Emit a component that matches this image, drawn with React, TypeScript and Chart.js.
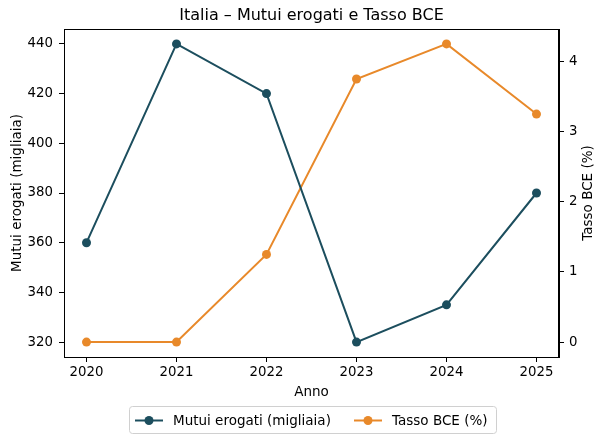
import React, { useEffect, useRef } from "react";
import { Chart, registerables } from "chart.js";

Chart.register(...registerables);

const years = [2020, 2021, 2022, 2023, 2024, 2025];
const mutui = [360, 440, 420, 320, 335, 380];
const tasso = [0, 0, 1.25, 3.75, 4.25, 3.25];
const leftTicks = [320, 340, 360, 380, 400, 420, 440];
const rightTicks = [0, 1, 2, 3, 4];
const titleText = "Italia – Mutui erogati e Tasso BCE";
const xTitle = "Anno";
const yLeftTitle = "Mutui erogati (migliaia)";
const yRightTitle = "Tasso BCE (%)";
const labelMutui = "Mutui erogati (migliaia)";
const labelTasso = "Tasso BCE (%)";

const TEAL = "#1c4e5e";
const ORANGE = "#e8892a";
const FONT = "DejaVu Sans";

const decorPlugin = {
  id: "decor",
  afterDraw(chart: any) {
    const ctx = chart.ctx;
    const a = chart.chartArea;
    ctx.save();
    ctx.strokeStyle = "#000";
    ctx.lineWidth = 1;
    ctx.strokeRect(Math.round(a.left) + 0.5, Math.round(a.top) + 0.5, Math.round(a.right - a.left) - 1, Math.round(a.bottom - a.top));
    const cx = (a.left + a.right) / 2;
    const cy = (a.top + a.bottom) / 2;
    ctx.fillStyle = "#000";
    ctx.textAlign = "center";
    ctx.textBaseline = "middle";
    ctx.font = `16px "${FONT}"`;
    ctx.fillText(titleText, cx, 16);
    ctx.font = `13.5px "${FONT}"`;
    ctx.fillText(xTitle, cx, 392);
    ctx.save();
    ctx.translate(17, cy);
    ctx.rotate(-Math.PI / 2);
    ctx.fillText(yLeftTitle, 0, 0);
    ctx.restore();
    ctx.save();
    ctx.translate(588, cy);
    ctx.rotate(-Math.PI / 2);
    ctx.fillText(yRightTitle, 0, 0);
    ctx.restore();
    // legend
    const bx = 129.5, by = 406.5, bw = 367, bh = 27;
    ctx.strokeStyle = "#d0d0d0";
    ctx.lineWidth = 1;
    ctx.beginPath();
    (ctx as any).roundRect(bx, by, bw, bh, 3);
    ctx.stroke();
    const items = [
      { x: 135, color: TEAL, text: labelMutui },
      { x: 354, color: ORANGE, text: labelTasso },
    ];
    const ly = 420.5;
    ctx.textAlign = "left";
    ctx.font = `13.5px "${FONT}"`;
    for (const it of items) {
      ctx.strokeStyle = it.color;
      ctx.lineWidth = 2;
      ctx.beginPath();
      ctx.moveTo(it.x, ly);
      ctx.lineTo(it.x + 28, ly);
      ctx.stroke();
      ctx.fillStyle = it.color;
      ctx.beginPath();
      ctx.arc(it.x + 14, ly, 4.5, 0, Math.PI * 2);
      ctx.fill();
      ctx.fillStyle = "#000";
      ctx.fillText(it.text, it.x + 38, ly + 1);
    }
    ctx.restore();
  },
};

export default function App() {
  const ref = useRef<HTMLCanvasElement>(null);
  useEffect(() => {
    document.body.style.margin = "0";
    const tickFont = { family: FONT, size: 13.3 };
    const chart = new Chart(ref.current!, {
      type: "line",
      data: {
        datasets: [
          {
            label: labelMutui,
            data: years.map((y, i) => ({ x: y, y: mutui[i] })),
            borderColor: TEAL,
            backgroundColor: TEAL,
            borderWidth: 2,
            pointRadius: 4.5,
            pointBorderWidth: 0,
            yAxisID: "y",
          },
          {
            label: labelTasso,
            data: years.map((y, i) => ({ x: y, y: tasso[i] })),
            borderColor: ORANGE,
            backgroundColor: ORANGE,
            borderWidth: 2,
            pointRadius: 4.5,
            pointBorderWidth: 0,
            yAxisID: "y1",
          },
        ],
      },
      options: {
        animation: false,
        responsive: false,
        layout: { padding: { top: 29, left: 0, right: 0, bottom: 0 } },
        plugins: { legend: { display: false }, title: { display: false }, tooltip: { enabled: false } },
        scales: {
          x: {
            type: "linear",
            min: 2019.75,
            max: 2025.25,
            afterFit: (s: any) => { s.height = 82; },
            afterBuildTicks: (s: any) => { s.ticks = years.map((v) => ({ value: v })); },
            ticks: { font: tickFont, color: "#000", padding: 3, callback: (v: any) => String(v), maxRotation: 0 },
            grid: { drawOnChartArea: false, tickLength: 5, color: "#000" },
            border: { color: "#000" },
          },
          y: {
            position: "left",
            min: 314,
            max: 446,
            afterFit: (s: any) => { s.width = 64; },
            afterBuildTicks: (s: any) => { s.ticks = leftTicks.map((v) => ({ value: v })); },
            ticks: { font: tickFont, color: "#000", padding: 6 },
            grid: { drawOnChartArea: false, tickLength: 5, color: "#000" },
            border: { color: "#000" },
          },
          y1: {
            position: "right",
            min: -0.2125,
            max: 4.4625,
            afterFit: (s: any) => { s.width = 46; },
            afterBuildTicks: (s: any) => { s.ticks = rightTicks.map((v) => ({ value: v })); },
            ticks: { font: tickFont, color: "#000", padding: 5 },
            grid: { drawOnChartArea: false, tickLength: 5, color: "#000" },
            border: { color: "#000" },
          },
        },
      },
      plugins: [decorPlugin],
    } as any);
    return () => chart.destroy();
  }, []);
  return (
    <div style={{ width: 605, height: 439 }}>
      <canvas ref={ref} width={605} height={439} style={{ display: "block" }} />
    </div>
  );
}
